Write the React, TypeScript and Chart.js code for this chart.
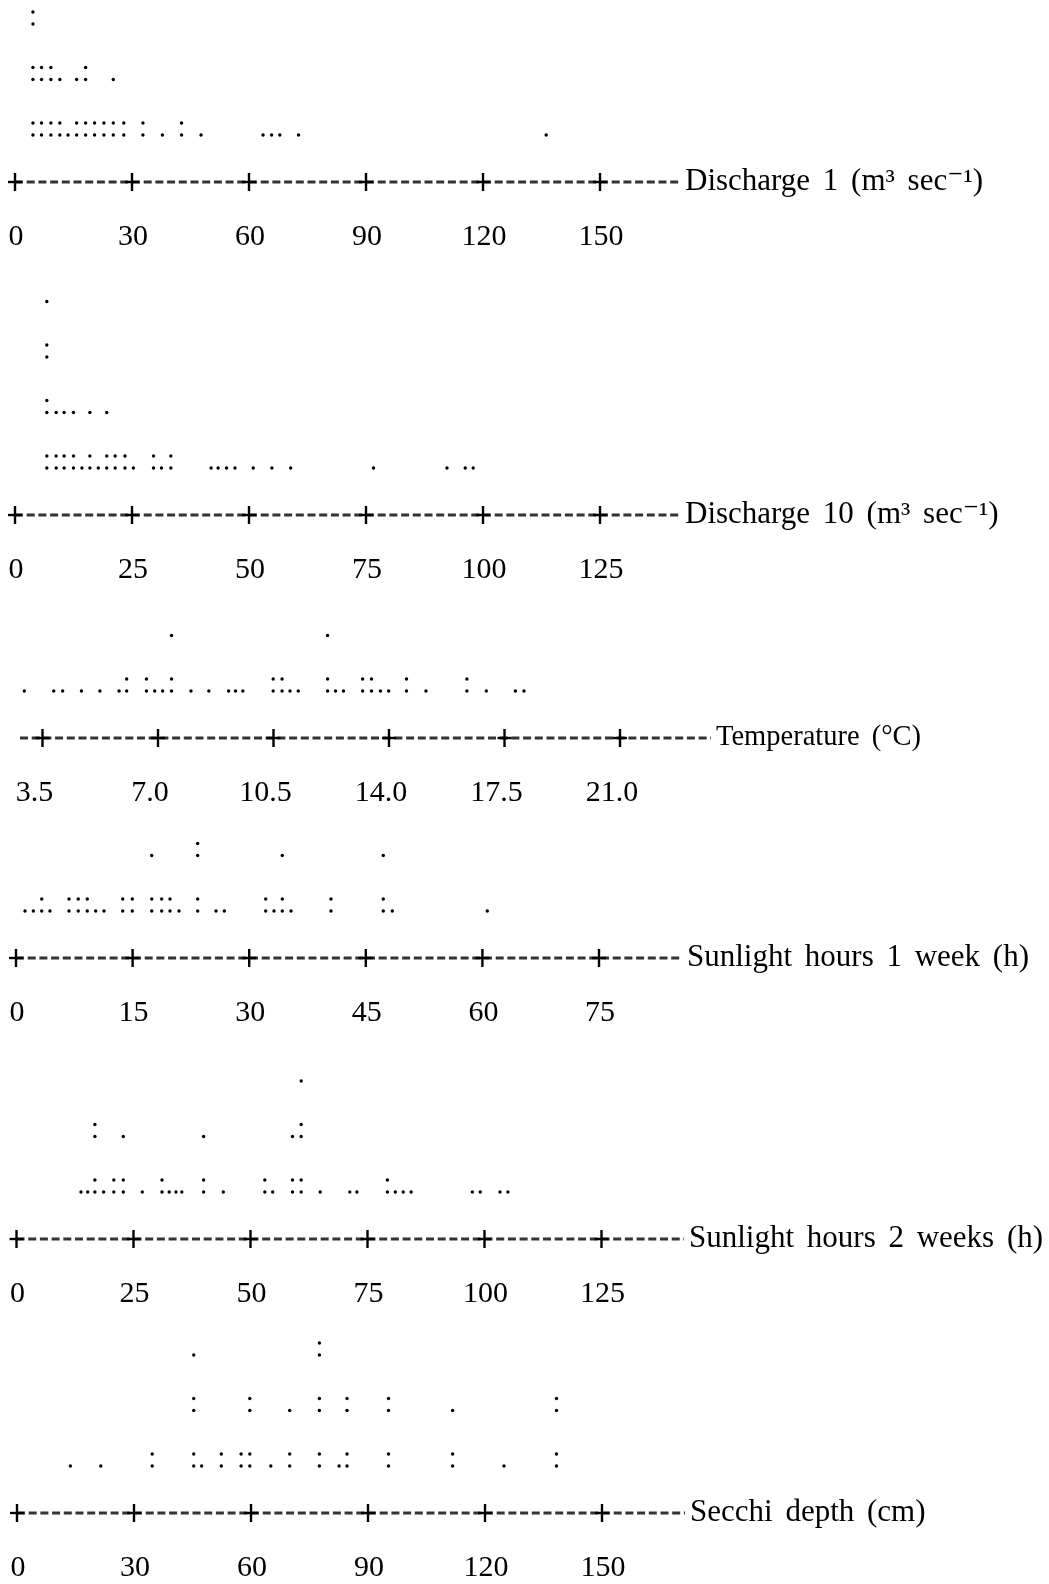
import React, { useEffect, useRef } from 'react';
import { Chart, registerables } from 'chart.js';

Chart.register(...registerables);

// ---------------- data (one entry per observation) ----------------
const discharge1Values = [
  4.6, 4.6, 4.6, 4.6, 4.6, 4.6, 6.8, 6.8, 6.8, 6.8, 9.2, 9.2, 9.2, 9.2,
  11.5, 11.5, 11.5, 13.6, 15.8, 15.8, 15.8, 18.1, 18.1, 18.1, 18.1,
  20.4, 20.4, 22.8, 22.8, 25.2, 25.2, 25.2, 27.9, 27.9, 32.8, 32.8, 37.8,
  42.7, 42.7, 47.7, 63.6, 65.8, 67.9, 72.7, 136.2,
];
const discharge1Ticks = [0, 30, 60, 90, 120, 150];
const discharge1TickLabels = ['0', '30', '60', '90', '120', '150'];
const discharge1Title = 'Discharge 1 (m³ sec⁻¹)';

const discharge10Values = [
  6.8, 6.8, 6.8, 6.8, 6.8, 6.8, 6.8, 8.8, 8.8, 8.8, 10.5, 10.5, 10.5,
  12.5, 12.5, 12.5, 14.3, 16.0, 16.0, 16.0, 17.8, 19.6, 19.6, 19.6,
  21.4, 21.4, 23.5, 23.5, 25.3, 29.6, 29.6, 31.3, 33.3, 33.3, 41.9, 43.4,
  45.2, 47.0, 50.9, 54.9, 58.9, 76.6, 92.3, 96.2, 97.9,
];
const discharge10Ticks = [0, 25, 50, 75, 100, 125];
const discharge10TickLabels = ['0', '25', '50', '75', '100', '125'];
const discharge10Title = 'Discharge 10 (m³ sec⁻¹)';

const temperatureValues = [
  2.95, 3.84, 4.11, 4.68, 5.24, 5.82, 6.05, 6.05, 6.65, 6.65, 6.9, 7.14,
  7.41, 7.41, 7.41, 8.0, 8.54, 9.14, 9.35, 9.57, 10.49, 10.49, 10.76, 10.76,
  11.0, 11.25, 12.14, 12.14, 12.14, 12.38, 12.62, 13.2, 13.2, 13.47, 13.47,
  13.74, 13.99, 14.53, 14.53, 15.12, 16.36, 16.36, 16.95, 17.83, 18.09,
];
const temperatureTicks = [3.5, 7.0, 10.5, 14.0, 17.5, 21.0];
const temperatureTickLabels = ['3.5', '7.0', '10.5', '14.0', '17.5', '21.0'];
const temperatureTitle = 'Temperature (°C)';

const sunlight1Values = [
  1.16, 2.23, 3.31, 3.31, 4.37, 6.82, 6.82, 8.01, 8.01, 9.17, 9.17, 10.25,
  11.32, 13.73, 13.73, 14.96, 14.96, 17.46, 17.46, 17.46, 18.74, 18.74,
  19.81, 19.81, 20.97, 23.37, 23.37, 23.37, 23.37, 25.73, 26.8, 32.12, 32.12,
  33.19, 34.26, 34.26, 34.26, 35.38, 40.52, 40.52, 47.25, 47.25, 47.25,
  48.41, 60.63,
];
const sunlight1Ticks = [0, 15, 30, 45, 60, 75];
const sunlight1TickLabels = ['0', '15', '30', '45', '60', '75'];
const sunlight1Title = 'Sunlight hours 1 week (h)';

const sunlight2Values = [
  13.78, 15.21, 16.75, 16.75, 16.75, 16.75, 18.61, 20.79, 20.79, 22.82,
  22.82, 22.82, 26.88, 31.09, 31.09, 32.63, 34.06, 35.32, 39.98, 39.98,
  39.98, 44.19, 53.06, 53.06, 54.74, 58.97, 58.97, 58.97, 60.83, 60.83,
  60.83, 60.83, 60.83, 64.89, 71.21, 72.74, 79.25, 79.25, 80.94, 82.63,
  84.32, 97.4, 99.09, 103.32, 105.0,
];
const sunlight2Ticks = [0, 25, 50, 75, 100, 125];
const sunlight2TickLabels = ['0', '25', '50', '75', '100', '125'];
const sunlight2Title = 'Sunlight hours 2 weeks (h)';

const secchiValues = [
  13.69, 21.49, 34.67, 34.67, 45.31, 45.31, 45.31, 45.31, 45.31, 47.33,
  52.38, 52.38, 57.46, 57.46, 59.69, 59.69, 59.69, 59.69, 65.08, 69.92,
  69.92, 69.92, 77.54, 77.54, 77.54, 77.54, 77.54, 77.54, 82.59, 84.62,
  84.62, 84.62, 84.62, 95.26, 95.26, 95.26, 95.26, 111.69, 111.69, 111.69,
  124.87, 138.33, 138.33, 138.33, 138.33,
];
const secchiTicks = [0, 30, 60, 90, 120, 150];
const secchiTickLabels = ['0', '30', '60', '90', '120', '150'];
const secchiTitle = 'Secchi depth (cm)';

// ---------------- layout / style ----------------
const FONT = '"Liberation Serif", "Times New Roman", "DejaVu Serif", serif';
const PAGE_W = 1049;
const PAGE_H = 1584;
const CANVAS_H = 320;
const AXIS_IN_CANVAS = 250;
const X_AXIS_H = 70;
const ROW_PX = 55.5; // distance between text rows of dots
const PAIR_GAP = 12 / ROW_PX; // spacing of the two dots of a ':'
const AXIS_TO_ROW = 47;
const Y_MIN = -AXIS_TO_ROW / ROW_PX;
const Y_MAX = 3.4;

type PlotSpec = {
  values: number[];
  ticks: number[];
  tickLabels: string[];
  title: string;
  titleSize: number;
  axisY: number;
  x0: number;
  stepPx: number;
  left: number;
  right: number;
  labelOffset: number;
};

const PLOTS: PlotSpec[] = [
  { values: discharge1Values, ticks: discharge1Ticks, tickLabels: discharge1TickLabels, title: discharge1Title,
    titleSize: 31, axisY: 182, x0: 15, stepPx: 117, left: 15, right: 680, labelOffset: 1 },
  { values: discharge10Values, ticks: discharge10Ticks, tickLabels: discharge10TickLabels, title: discharge10Title,
    titleSize: 31, axisY: 515, x0: 15, stepPx: 117, left: 15, right: 680, labelOffset: 1 },
  { values: temperatureValues, ticks: temperatureTicks, tickLabels: temperatureTickLabels, title: temperatureTitle,
    titleSize: 28.5, axisY: 738, x0: 42.5, stepPx: 115.5, left: 20, right: 711, labelOffset: -8 },
  { values: sunlight1Values, ticks: sunlight1Ticks, tickLabels: sunlight1TickLabels, title: sunlight1Title,
    titleSize: 31, axisY: 958, x0: 16, stepPx: 116.6, left: 16, right: 682, labelOffset: 1 },
  { values: sunlight2Values, ticks: sunlight2Ticks, tickLabels: sunlight2TickLabels, title: sunlight2Title,
    titleSize: 31, axisY: 1239, x0: 16.5, stepPx: 117, left: 16.5, right: 684, labelOffset: 1 },
  { values: secchiValues, ticks: secchiTicks, tickLabels: secchiTickLabels, title: secchiTitle,
    titleSize: 31, axisY: 1513, x0: 17, stepPx: 117, left: 17, right: 685, labelOffset: 1 },
];

// stack identical values like a character dot plot: '.' then ':' per text row
function stackDots(values: number[]) {
  const counts = new Map<number, number>();
  return values.map((v) => {
    const k = counts.get(v) ?? 0;
    counts.set(v, k + 1);
    return { x: v, y: Math.floor(k / 2) + (k % 2) * PAIR_GAP };
  });
}

const axisTitlePlugin = {
  id: 'axisTitle',
  afterDraw(chart: any, _args: any, opts: any) {
    const { ctx, chartArea } = chart;
    ctx.save();
    ctx.font = `${opts.size}px ${FONT}`;
    ctx.fillStyle = '#000';
    ctx.textAlign = 'left';
    ctx.textBaseline = 'middle';
    (ctx as any).wordSpacing = '5px';
    ctx.fillText(opts.text, chartArea.right + 5, chartArea.bottom);
    ctx.restore();
  },
};

function DotPlot({ spec }: { spec: PlotSpec }) {
  const ref = useRef<HTMLCanvasElement | null>(null);

  useEffect(() => {
    const canvas = ref.current;
    if (!canvas) return;
    const tickStep = spec.ticks[1] - spec.ticks[0];
    const pxPerUnit = spec.stepPx / tickStep;
    const xMin = spec.ticks[0] + (spec.left - spec.x0) / pxPerUnit;
    const xMax = spec.ticks[0] + (spec.right - spec.x0) / pxPerUnit;
    const plusPoints = spec.ticks.map((v) => ({ x: v, y: Y_MIN }));

    const chart = new Chart(canvas, {
      type: 'scatter',
      data: {
        datasets: [
          {
            // dashed axis line
            data: [
              { x: xMin, y: Y_MIN },
              { x: xMax, y: Y_MIN },
            ],
            showLine: true,
            borderColor: '#333',
            borderWidth: 3,
            borderDash: [8, 3.7],
            pointRadius: 0,
            pointHoverRadius: 0,
            clip: false,
            order: 3,
          } as any,
          {
            data: stackDots(spec.values),
            pointRadius: 1.7,
            pointHoverRadius: 1.7,
            pointBackgroundColor: '#000',
            pointBorderWidth: 0,
            clip: false,
            order: 1,
          } as any,
          {
            data: plusPoints,
            pointStyle: 'line',
            pointRotation: 90,
            pointRadius: 9,
            pointBorderWidth: 2.4,
            pointBorderColor: '#000',
            clip: false,
            order: 2,
          } as any,
          {
            data: plusPoints,
            pointStyle: 'line',
            pointRotation: 0,
            pointRadius: 7,
            pointBorderWidth: 2.4,
            pointBorderColor: '#000',
            clip: false,
            order: 2,
          } as any,
        ],
      },
      options: {
        responsive: false,
        animation: false,
        events: [],
        layout: {
          padding: {
            left: spec.left,
            right: PAGE_W - spec.right,
            top: AXIS_IN_CANVAS - (Y_MAX - Y_MIN) * ROW_PX,
            bottom: 0,
          },
        },
        plugins: {
          legend: { display: false },
          tooltip: { enabled: false },
          axisTitle: { text: spec.title, size: spec.titleSize },
        } as any,
        scales: {
          x: {
            type: 'linear',
            min: xMin,
            max: xMax,
            afterBuildTicks: (scale: any) => {
              scale.ticks = spec.ticks.map((v) => ({ value: v }));
            },
            afterFit: (scale: any) => {
              scale.height = X_AXIS_H;
            },
            ticks: {
              callback: (_v: any, i: number) => spec.tickLabels[i],
              font: { family: FONT, size: 30, lineHeight: '106px' },
              color: '#000',
              padding: 2,
              maxRotation: 0,
              minRotation: 0,
              autoSkip: false,
              labelOffset: spec.labelOffset,
            },
            grid: { display: false, drawTicks: false },
            border: { display: false },
          },
          y: { type: 'linear', display: false, min: Y_MIN, max: Y_MAX },
        },
      } as any,
      plugins: [axisTitlePlugin],
    });
    return () => chart.destroy();
  }, [spec]);

  return (
    <canvas
      ref={ref}
      width={PAGE_W}
      height={CANVAS_H}
      style={{
        position: 'absolute',
        left: 0,
        top: spec.axisY - AXIS_IN_CANVAS,
        width: PAGE_W,
        height: CANVAS_H,
      }}
    />
  );
}

export default function App() {
  return (
    <div
      style={{
        position: 'absolute',
        left: 0,
        top: 0,
        width: PAGE_W,
        height: PAGE_H,
        overflow: 'hidden',
        background: '#fff',
      }}
    >
      {PLOTS.map((p, i) => (
        <DotPlot key={i} spec={p} />
      ))}
    </div>
  );
}
